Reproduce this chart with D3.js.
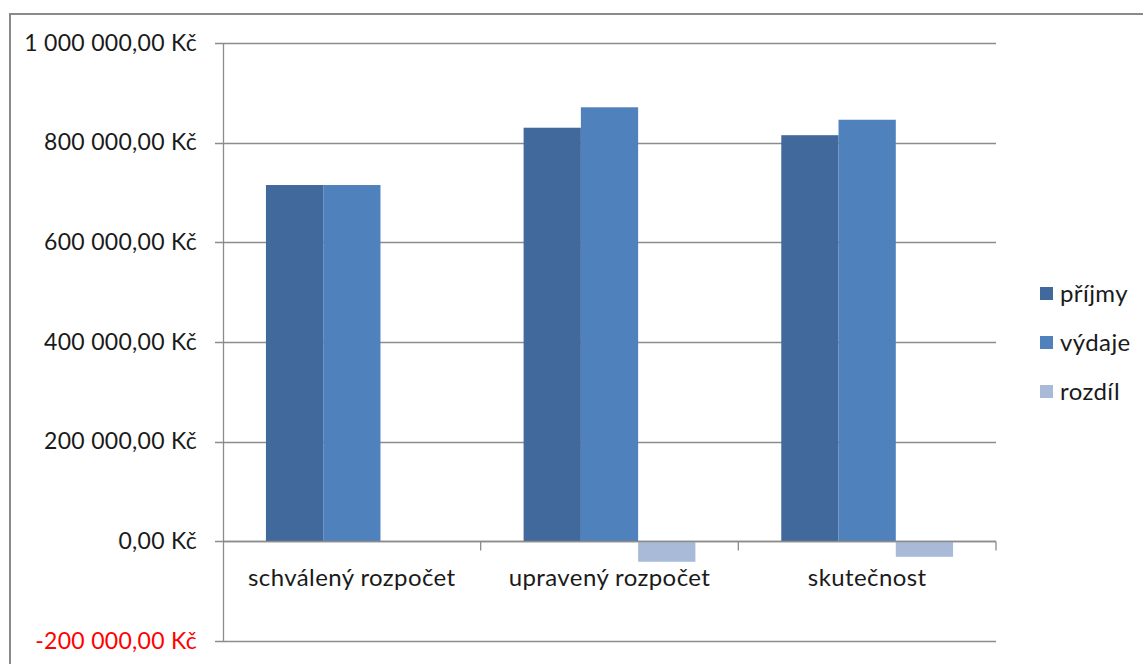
<!DOCTYPE html>
<html>
<head>
<meta charset="utf-8">
<script src="https://cdn.jsdelivr.net/npm/d3@7"></script>
<style>
  body { margin: 0; background: #fff; }
  text { font-family: Lato, "Open Sans", sans-serif; }
</style>
</head>
<body>
<div id="main"></div>
<script>
var categories = ["schválený rozpočet", "upravený rozpočet", "skutečnost"];
var seriesNames = ["příjmy", "výdaje", "rozdíl"];
var prijmy = [715000, 830000, 815000];
var vydaje = [715000, 871000, 846000];
var rozdil = [0, -41000, -31000];
var yTicks = [-200000, 0, 200000, 400000, 600000, 800000, 1000000];

var colors = ["#41699b", "#4f81bd", "#a9bad8"];
var values = [prijmy, vydaje, rozdil];

var W = 1143, H = 664;
var plot = {left: 223, right: 996, top: 43, bottom: 641};

var svg = d3.select("#main").append("svg")
    .attr("width", W)
    .attr("height", H);

// outer chart frame (top + left edges visible)
svg.append("path")
    .attr("d", "M10,664 L10,14 L1143,14")
    .attr("fill", "none")
    .attr("stroke", "#8a8a8a")
    .attr("stroke-width", 2);

var y = d3.scaleLinear()
    .domain([-200000, 1000000])
    .range([plot.bottom, plot.top]);

var x = d3.scaleBand()
    .domain(categories)
    .range([plot.left, plot.right]);

// gap width 150% -> 3 bars + 1.5 bar of gap per band
var barW = x.bandwidth() / 4.5;

var fmt = function(v) {
  var s = d3.format(",.2f")(v);
  return s.replace(/,/g, " ").replace(".", ",").replace("−", "-") + " Kč";
};

// gridlines with outer tick
svg.append("g").selectAll("line")
    .data(yTicks)
    .enter().append("line")
    .attr("x1", plot.left - 8)
    .attr("x2", plot.right)
    .attr("y1", function(d) { return Math.round(y(d)) + 0.5; })
    .attr("y2", function(d) { return Math.round(y(d)) + 0.5; })
    .attr("stroke", "#8c8c8c")
    .attr("stroke-width", 1.3);

// y axis line
svg.append("line")
    .attr("x1", plot.left + 0.5).attr("x2", plot.left + 0.5)
    .attr("y1", plot.top).attr("y2", plot.bottom)
    .attr("stroke", "#8c8c8c")
    .attr("stroke-width", 1.3);

svg.append("g").selectAll("text")
    .data(yTicks)
    .enter().append("text")
    .attr("x", 197)
    .attr("y", function(d) { return y(d); })
    .attr("dy", "0.33em")
    .attr("text-anchor", "end")
    .attr("font-size", 23)
    .attr("letter-spacing", 0.3)
    .attr("fill", function(d) { return d < 0 ? "#ff0000" : "#1a1a1a"; })
    .text(fmt);

// bars
categories.forEach(function(c, ci) {
  values.forEach(function(vals, si) {
    var v = vals[ci];
    var x0 = x(c) + barW * 0.75 + si * barW;
    svg.append("rect")
        .attr("x", x0)
        .attr("width", barW)
        .attr("y", y(Math.max(0, v)))
        .attr("height", Math.abs(y(v) - y(0)))
        .attr("fill", colors[si]);
  });
});

// x axis at zero with ticks between categories
var y0 = Math.round(y(0)) + 0.5;
svg.append("line")
    .attr("x1", plot.left).attr("x2", plot.right)
    .attr("y1", y0).attr("y2", y0)
    .attr("stroke", "#8c8c8c")
    .attr("stroke-width", 1.3);

svg.append("g").selectAll("line")
    .data(categories)
    .enter().append("line")
    .attr("x1", function(d) { return x(d) + x.bandwidth(); })
    .attr("x2", function(d) { return x(d) + x.bandwidth(); })
    .attr("y1", y0).attr("y2", y0 + 9)
    .attr("stroke", "#8c8c8c")
    .attr("stroke-width", 1.3);

svg.append("g").selectAll("text")
    .data(categories)
    .enter().append("text")
    .attr("x", function(d) { return x(d) + x.bandwidth() / 2; })
    .attr("y", y0 + 44)
    .attr("text-anchor", "middle")
    .attr("font-size", 24)
    .attr("letter-spacing", 0.4)
    .attr("fill", "#1a1a1a")
    .text(function(d) { return d; });

// legend
var legend = svg.append("g").selectAll("g")
    .data(seriesNames)
    .enter().append("g")
    .attr("transform", function(d, i) { return "translate(1040," + (294 + i * 49) + ")"; });

legend.append("rect")
    .attr("x", 0).attr("y", -7)
    .attr("width", 13).attr("height", 13)
    .attr("fill", function(d, i) { return colors[i]; });

legend.append("text")
    .attr("x", 20)
    .attr("y", 0)
    .attr("dy", "0.35em")
    .attr("font-size", 24)
    .attr("letter-spacing", 0.4)
    .attr("fill", "#1a1a1a")
    .text(function(d) { return d; });
</script>
</body>
</html>
